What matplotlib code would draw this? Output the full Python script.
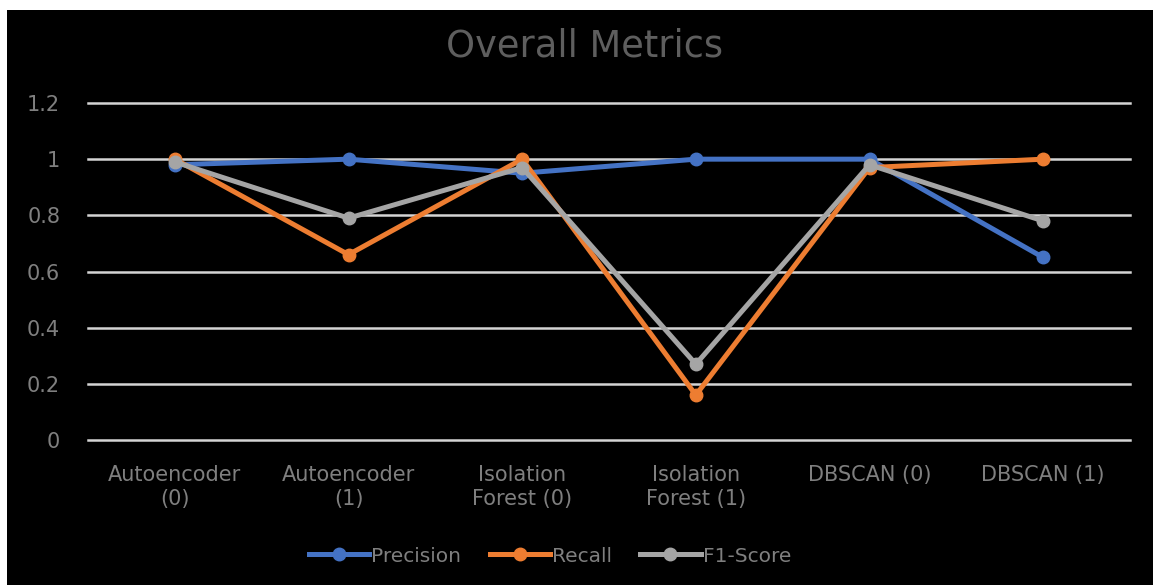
import matplotlib
matplotlib.use("Agg")
import matplotlib.pyplot as plt
from matplotlib.lines import Line2D

categories = ["Autoencoder\n(0)", "Autoencoder\n(1)", "Isolation\nForest (0)",
              "Isolation\nForest (1)", "DBSCAN (0)", "DBSCAN (1)"]
precision = [0.98, 1.00, 0.95, 1.00, 1.00, 0.65]
recall = [1.00, 0.66, 1.00, 0.16, 0.97, 1.00]
f1_score = [0.99, 0.79, 0.97, 0.27, 0.98, 0.78]
y_ticks = [0, 0.2, 0.4, 0.6, 0.8, 1.0, 1.2]
y_tick_labels = ["0", "0.2", "0.4", "0.6", "0.8", "1", "1.2"]

series = [
    ("Precision", precision, "#4472C4"),
    ("Recall", recall, "#ED7D31"),
    ("F1-Score", f1_score, "#A5A5A5"),
]

plt.rcParams["font.family"] = ["DejaVu Sans"]
text_color = "#7F7F7F"

W, H = 1153, 585
fig = plt.figure(figsize=(W / 100, H / 100), dpi=100)
fig.patch.set_facecolor("white")

# black chart panel, leaving a thin white margin on the top and left
panel = fig.add_axes([7 / W, 0, 1 - 7 / W, 1 - 10 / H])
panel.set_facecolor("black")
panel.set_xticks([])
panel.set_yticks([])
for s in panel.spines.values():
    s.set_visible(False)

ax = fig.add_axes([88 / W, 1 - 440 / H, (1130 - 88) / W, (440 - 103) / H])
ax.set_facecolor("none")
ax.set_zorder(2)

x = list(range(len(categories)))
for name, vals, col in series:
    ax.plot(x, vals, color=col, lw=3.6, marker="o", ms=9, label=name,
            solid_capstyle="round", solid_joinstyle="round", zorder=3)

ax.set_xlim(-0.5, len(categories) - 0.5)
ax.set_ylim(0, 1.2)
ax.set_yticks(y_ticks)
ax.set_yticklabels(y_tick_labels)
ax.set_xticks(x)
ax.set_xticklabels(categories, linespacing=1.25)
ax.tick_params(axis="both", length=0, colors=text_color, labelsize=15)
ax.tick_params(axis="x", pad=18)
ax.tick_params(axis="y", pad=20)
ax.grid(axis="y", color="#D4D4D4", lw=1.8, zorder=1)
ax.grid(axis="x", visible=False)
for gl in ax.get_ygridlines():
    gl.set_clip_on(False)
for s in ax.spines.values():
    s.set_visible(False)

fig.text(584 / W, 1 - 46 / H, "Overall Metrics", ha="center", va="center",
         fontsize=26.5, color="#5E5E5E")

handles = [Line2D([0], [0], color=c, lw=3.6, marker="o", ms=9) for _, _, c in series]
leg = fig.legend(handles, [n for n, _, _ in series], loc="center",
                 bbox_to_anchor=(550 / W, 1 - 556 / H), ncol=3, frameon=False,
                 fontsize=14.5, handlelength=3.0, columnspacing=1.4,
                 handletextpad=0.1)
for t in leg.get_texts():
    t.set_color(text_color)

fig.savefig("out.png", dpi=100, facecolor=fig.get_facecolor())
